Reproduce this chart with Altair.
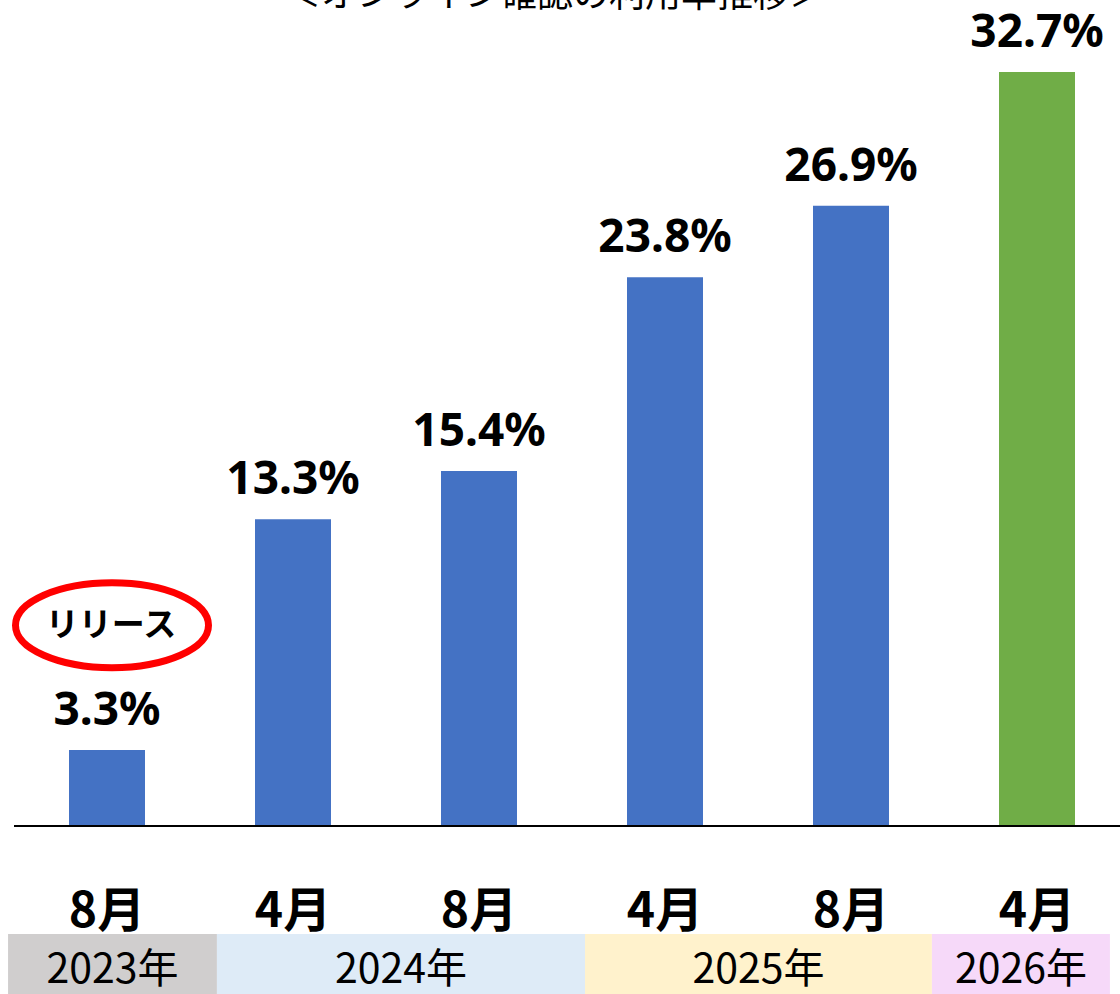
import altair as alt
import pandas as pd

# ---- data ----
months = ["8月", "4月", "8月", "4月", "8月", "4月"]
rates = [3.3, 13.3, 15.4, 23.8, 26.9, 32.7]
bar_colors = ["#4472C4", "#4472C4", "#4472C4", "#4472C4", "#4472C4", "#70AD47"]
years = ["2023年", "2024年", "2025年", "2026年"]
year_start = [-0.532, 0.591, 2.570, 4.435]   # in bar-index units
year_end = [0.591, 2.570, 4.435, 5.392]
year_colors = ["#D0CECE", "#DEEBF7", "#FFF2CC", "#F6D9F9"]
title_text = "＜オンライン確認の利用率推移＞"
release_text = "リリース"
release_index = 0
release_level = 8.75

bars = pd.DataFrame({
    "i": list(range(len(rates))),
    "month": months,
    "rate": rates,
    "label": [f"{v}%" for v in rates],
    "color": bar_colors,
})
yrs = pd.DataFrame({"year": years, "s": year_start, "e": year_end, "ycol": year_colors})

W, H = 1120, 826
XMIN, XMAX = -107 / 186, (1120 - 107) / 186
JP = "Noto Sans CJK JP"


def X(f):
    return alt.X(f, scale=alt.Scale(domain=[XMIN, XMAX], nice=False, zero=False, padding=0), axis=None)


def Y(f):
    return alt.Y(f, scale=alt.Scale(domain=[0, 826 / 23.06], nice=False, padding=0), axis=None)


ry = 0.44
k = 0.5523
ell = (
    f"M-1,0 C-1,{-k*ry:.4f} {-k:.4f},{-ry} 0,{-ry} "
    f"C{k:.4f},{-ry} 1,{-k*ry:.4f} 1,0 "
    f"C1,{k*ry:.4f} {k:.4f},{ry} 0,{ry} "
    f"C{-k:.4f},{ry} -1,{k*ry:.4f} -1,0 Z"
)

base = alt.Chart(bars)
ubar = sorted(set(bar_colors))

bar_layer = base.mark_bar(size=76).encode(
    x=X("i:Q"), y=Y("rate:Q"),
    color=alt.Color("color:N", scale=alt.Scale(domain=ubar, range=ubar), legend=None),
)

value_text = base.mark_text(
    font="Noto Sans", fontWeight="bold", fontSize=46, baseline="alphabetic",
    dy=-25, color="black",
).encode(x=X("i:Q"), y=Y("rate:Q"), text="label:N")

rule_df = pd.DataFrame({"a": [-0.5], "b": [XMAX], "y": [0.0]})
axis_rule = alt.Chart(rule_df).mark_rule(color="black", strokeWidth=2).encode(
    x=X("a:Q"), x2="b", y=Y("y:Q")
)

month_text = base.mark_text(
    font=JP, fontWeight="bold", fontSize=48, baseline="alphabetic", color="black"
).encode(x=X("i:Q"), y=alt.value(927), text="month:N")

year_rect = alt.Chart(yrs).mark_rect().encode(
    x=X("s:Q"), x2="e",
    y=alt.value(934), y2=alt.value(994),
    fill=alt.Fill("ycol:N", scale=alt.Scale(domain=year_colors, range=year_colors), legend=None),
)

year_text = alt.Chart(yrs).transform_calculate(m="(datum.s + datum.e) / 2").mark_text(
    font=JP, fontSize=41, baseline="alphabetic", color="black"
).encode(x=X("m:Q"), y=alt.value(983), text="year:N")

rel = pd.DataFrame({"i": [release_index], "y": [release_level], "t": [release_text]})
ellipse = alt.Chart(rel).mark_point(
    shape=ell, size=193 * 193, filled=False, stroke="#FF0000", strokeWidth=7, opacity=1,
    xOffset=5, yOffset=1,
).encode(x=X("i:Q"), y=Y("y:Q"))
release_lbl = alt.Chart(rel).mark_text(
    font=JP, fontWeight="bold", fontSize=33, baseline="middle", color="black", dy=2, dx=4
).encode(x=X("i:Q"), y=Y("y:Q"), text="t:N")

title = alt.Chart(pd.DataFrame({"t": [title_text]})).mark_text(
    font=JP, fontSize=36, baseline="alphabetic", color="black"
).encode(x=alt.value(555), y=alt.value(7), text="t:N")

chart = alt.layer(
    year_rect, bar_layer, axis_rule, value_text, month_text, year_text,
    ellipse, release_lbl, title,
).properties(
    width=W, height=H,
    autosize=alt.AutoSizeParams(type="none"),
    padding={"left": 0, "right": 0, "top": 0, "bottom": 168},
    background="white",
).configure_view(stroke=None)

chart.save("out.html", embed_options={"renderer": "svg", "actions": False})
